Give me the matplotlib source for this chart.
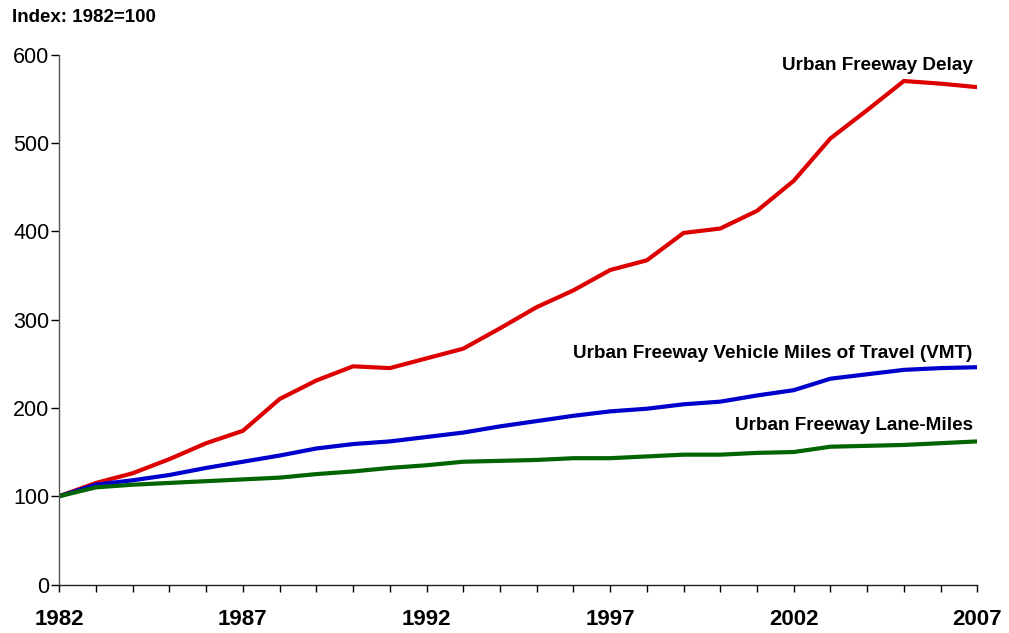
import matplotlib
matplotlib.use("Agg")
import matplotlib.pyplot as plt
from matplotlib.ticker import MultipleLocator, FixedLocator

plt.rcParams['font.family'] = ['Liberation Sans', 'DejaVu Sans']

# index values, 1982 = 100
years = list(range(1982, 2008))
delay = [100, 115, 126, 142, 160, 174, 210, 231, 247, 245, 256, 267,
         290, 314, 333, 356, 367, 398, 403, 423, 457, 505, 537, 570, 567, 563]
vmt = [100, 113, 118, 124, 132, 139, 146, 154, 159, 162, 167, 172,
       179, 185, 191, 196, 199, 204, 207, 214, 220, 233, 238, 243, 245, 246]
lane_miles = [100, 110, 113, 115, 117, 119, 121, 125, 128, 132, 135, 139,
              140, 141, 143, 143, 145, 147, 147, 149, 150, 156, 157, 158, 160, 162]

labels = ['Urban Freeway Delay',
          'Urban Freeway Vehicle Miles of Travel (VMT)',
          'Urban Freeway Lane-Miles']
colors = ['#DD0000', '#0000CC', '#006400']
label_offsets = [(-3.3, 12.2), (-3.3, 6.3), (-3.3, 8.4)]

fig = plt.figure(figsize=(10.09, 6.33), dpi=100)
ax = fig.add_axes([0.0588, 0.0766, 0.9098, 0.8373])

for series, label, color, off in zip([delay, vmt, lane_miles], labels, colors, label_offsets):
    ax.plot(years, series, color=color, lw=3, solid_capstyle='round',
            solid_joinstyle='round')
    ax.annotate(label, xy=(years[-1], series[-1]), xytext=off,
                textcoords='offset points', ha='right', va='baseline',
                fontsize=13.6, fontweight='bold')

ax.set_xlim(1982, 2007)
ax.set_ylim(0, 600)
ax.yaxis.set_major_locator(MultipleLocator(100))
ax.xaxis.set_major_locator(FixedLocator(years))
ax.set_xticklabels([str(y) if (y - 1982) % 5 == 0 else '' for y in years],
                   fontweight='bold', fontsize=16)
ax.tick_params(axis='x', direction='out', length=5.3, width=1, pad=12.5)
ax.tick_params(axis='y', direction='out', length=6, width=1, pad=1, labelsize=15.5)

for s in ['top', 'right']:
    ax.spines[s].set_visible(False)
ax.spines['left'].set_linewidth(1)
ax.spines['left'].set_color('#555555')
ax.spines['bottom'].set_linewidth(1)
ax.spines['bottom'].set_color('#222222')

fig.text(12 / 1009, 1 - 18 / 633, 'Index: 1982=100', fontsize=13.5,
         fontweight='bold', va='center', ha='left')

fig.savefig('out.png', dpi=100)
